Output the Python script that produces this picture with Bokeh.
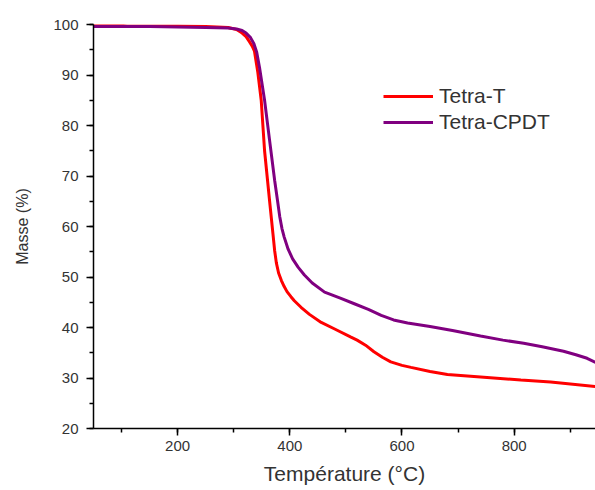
from bokeh.plotting import figure
from bokeh.models import Range1d, SingleIntervalTicker, Legend, LegendItem
from bokeh.embed import file_html
from bokeh.resources import INLINE

# Data (Température °C, Masse %)
temp_t = [50, 90, 110, 200, 250, 290, 305, 315, 322, 328, 333, 337, 343, 349, 355, 364, 370,
          373, 376, 380, 385, 390, 395, 402, 408, 420, 435, 456, 480, 509, 520, 535, 550,
          565, 580, 600, 616, 650, 681, 740, 812, 865, 945]
mass_t = [100.0, 100.0, 99.7, 99.7, 99.6, 99.4, 99.0, 98.3, 97.6, 96.6, 95.7, 94.7, 90.5,
          85.0, 75.0, 65.0, 58.5, 55.2, 52.8, 50.8, 49.3, 48.1, 47.1, 46.1, 45.3, 44.0, 42.6,
          41.0, 39.7, 38.1, 37.5, 36.5, 35.2, 34.1, 33.2, 32.5, 32.1, 31.3, 30.7, 30.2, 29.6,
          29.2, 28.3]

temp_c = [50, 150, 200, 250, 290, 305, 315, 322, 330, 336, 341, 346, 355, 364, 373, 378, 382,
          386, 390, 397, 405, 415, 426, 440, 462, 490, 515, 540, 563, 585, 610, 650, 690,
          740, 780, 817, 850, 888, 910, 930, 945]
mass_c = [99.6, 99.6, 99.5, 99.4, 99.3, 99.1, 98.8, 98.3, 97.4, 96.2, 94.5, 91.5, 85.0, 77.0,
          69.1, 65.2, 62.0, 59.6, 57.9, 55.5, 53.6, 51.9, 50.4, 48.8, 47.0, 45.8, 44.7, 43.6,
          42.4, 41.5, 40.9, 40.2, 39.4, 38.3, 37.5, 36.9, 36.2, 35.3, 34.6, 33.9, 33.1]

series_names = ["Tetra-T", "Tetra-CPDT"]
x_label = "Température (°C)"
y_label = "Masse (%)"

FONT = "Liberation Sans"
TXT = "#333333"

p = figure(width=595, height=487, output_backend="svg", toolbar_location=None,
           x_range=Range1d(50, 945), y_range=Range1d(20, 100),
           min_border_left=93, min_border_right=0, min_border_top=24, min_border_bottom=10)
p.outline_line_color = None
p.xgrid.visible = False
p.ygrid.visible = False

r1 = p.line(temp_t, mass_t, line_color="#ff0000", line_width=3)
r2 = p.line(temp_c, mass_c, line_color="#800080", line_width=3)

p.xaxis.ticker = SingleIntervalTicker(interval=200, num_minor_ticks=2)
p.yaxis.ticker = SingleIntervalTicker(interval=10, num_minor_ticks=2)

for ax in (p.xaxis[0], p.yaxis[0]):
    ax.axis_line_color = "black"
    ax.axis_line_width = 1.5
    ax.major_tick_line_color = "black"
    ax.minor_tick_line_color = "black"
    ax.major_tick_line_width = 1.5
    ax.minor_tick_line_width = 1.5
    ax.major_tick_out = 7
    ax.major_tick_in = 0
    ax.minor_tick_out = 4
    ax.minor_tick_in = 0
    ax.major_label_text_font = FONT
    ax.major_label_text_font_size = "15px"
    ax.major_label_text_color = TXT
    ax.axis_label_text_font = FONT
    ax.axis_label_text_font_style = "normal"
    ax.axis_label_text_color = TXT

p.xaxis.axis_label = x_label
p.yaxis.axis_label = y_label
p.xaxis.axis_label_text_font_size = "21px"
p.yaxis.axis_label_text_font_size = "16px"
p.xaxis.major_label_standoff = 5
p.yaxis.major_label_standoff = 8
p.xaxis.axis_label_standoff = 8
p.yaxis.axis_label_standoff = 19

legend = Legend(items=[LegendItem(label=series_names[0], renderers=[r1]),
                       LegendItem(label=series_names[1], renderers=[r2])],
                location=(290, 294), padding=0, margin=0, spacing=2,
                glyph_width=50, glyph_height=20, label_height=20, label_standoff=6,
                border_line_color=None, background_fill_alpha=0,
                label_text_font=FONT, label_text_font_size="21px", label_text_color=TXT)
p.add_layout(legend)

open("out.html", "w").write(file_html(p, INLINE))
